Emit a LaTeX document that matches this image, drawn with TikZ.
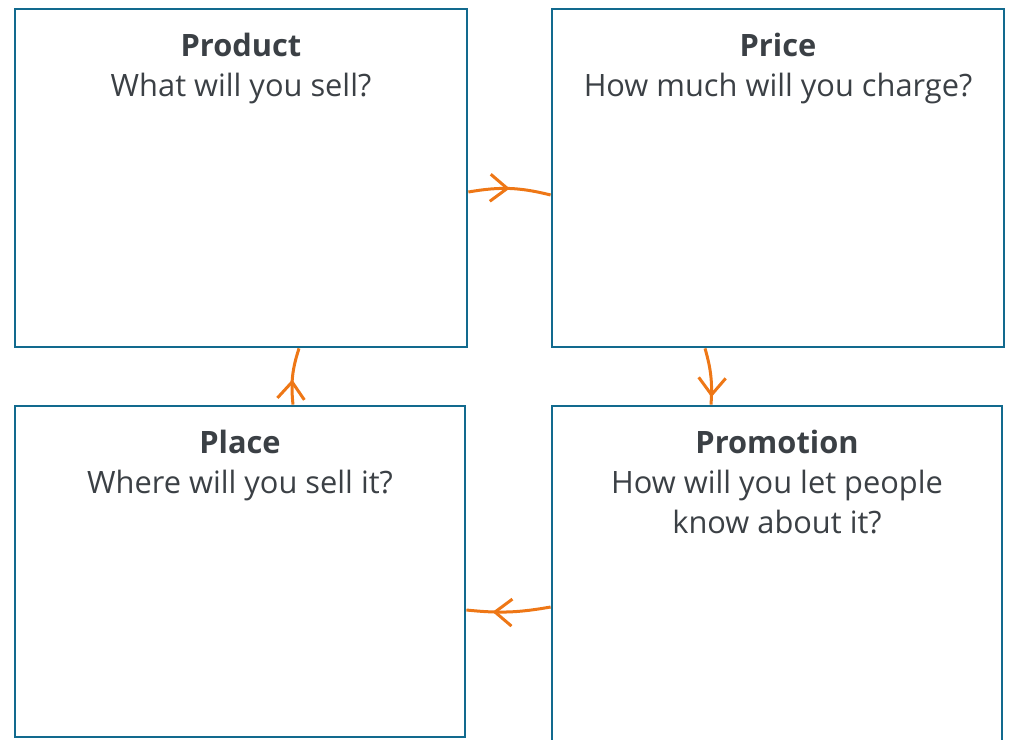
\documentclass[tikz,border=0pt]{standalone}
\usepackage{fontspec}
\setmainfont{Open Sans}
\usetikzlibrary{arrows.meta}
\usetikzlibrary{decorations.markings}

\definecolor{boxblue}{HTML}{126A8E}
\definecolor{floworange}{HTML}{EE7716}
\definecolor{inkgray}{HTML}{3B4045}

\begin{document}
\begin{tikzpicture}[x=0.5pt,y=-0.5pt,
	box/.style={draw=boxblue,line width=1.4pt,minimum width=226pt,minimum height=169pt,inner sep=0pt},
	caption/.style={text=inkgray,font=\fontsize{15.4pt}{20pt}\selectfont,align=center,inner sep=0pt,anchor=north},
	flow/.style={draw=floworange,line width=1.5pt,postaction={decorate},
		decoration={markings,mark=at position #1 with {\arrow{Straight Barb[length=8.5pt,width=13.5pt]}}}}]
	\useasboundingbox (0,0) rectangle (1011,739);
	% the four boxes
	\node[box] (product) at (241,178) {};
	\node[box] (price) at (778,178) {};
	\node[box,minimum width=225pt,minimum height=165.5pt] (place) at (240,571.5) {};
	\node[box,minimum width=225pt,minimum height=182pt] (promotion) at (777,588) {};
	% texts
	\node[caption] (producttext) at ([yshift=-12.5pt]product.north) {\textbf{Product}\\What will you sell?};
	\node[caption] (pricetext) at ([yshift=-12.5pt]price.north) {\textbf{Price}\\How much will you charge?};
	\node[caption] (placetext) at ([yshift=-12.5pt]place.north) {\textbf{Place}\\Where will you sell it?};
	\node[caption] (promotiontext) at ([yshift=-12.5pt]promotion.north) {\textbf{Promotion}\\How will you let people\\know about it?};
	% the cycle
	\draw[flow=0.5] ([yshift=-7pt]product.east) to[bend left=12] ([yshift=-8.5pt]price.west);
	\draw[flow=0.87] ([xshift=-36.5pt]price.south) to[bend left=10] ([xshift=-33pt]promotion.north);
	\draw[flow=0.69] ([yshift=-9.5pt]promotion.west) to[bend left=8] ([yshift=-19.25pt]place.east);
	\draw[flow=0.44] ([xshift=26.5pt]place.north) to[bend left=12] ([xshift=29pt]product.south);
\end{tikzpicture}
\end{document}
